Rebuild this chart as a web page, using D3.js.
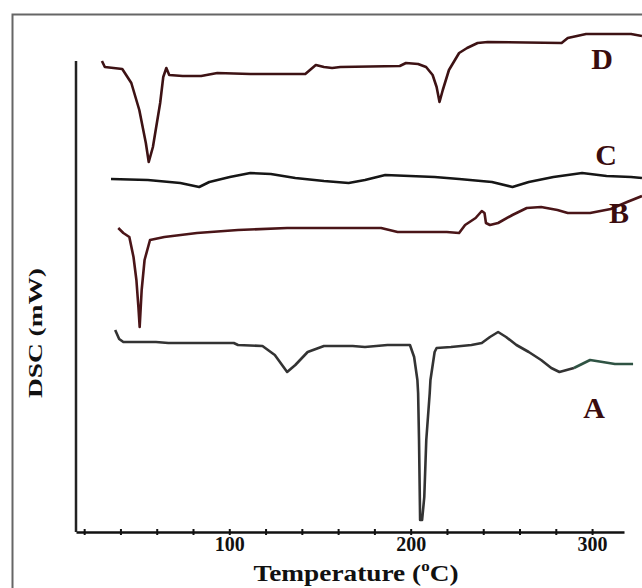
<!DOCTYPE html>
<html>
<head>
<meta charset="utf-8">
<script src="https://cdn.jsdelivr.net/npm/d3@7"></script>
<style>
  body { margin: 0; background: #fff; }
  svg { display: block; }
  text { font-family: "Liberation Serif", "Times New Roman", serif; font-weight: bold; }
</style>
</head>
<body>
<svg id="chart"></svg>
<script>
// temperature (°C), heat flow (arbitrary offset units)
const traceD = [[29.8,471],[31.4,465],[41.0,463],[46.0,449],[50.4,422],[54.0,389],[55.6,370],[57.9,385],[61.9,429],[63.6,455],[65.3,464],[66.9,457],[74.3,456],[84.5,456],[93.4,459],[111.6,458],[141.9,458],[147.7,467],[152.2,465],[156.7,464],[161.2,465],[194.0,466],[197.4,469],[204.1,468],[208.5,465],[212.1,457],[214.3,445],[215.9,430],[217.7,442],[221.1,462],[226.7,479],[231.1,484],[236.9,489],[242.5,490],[283.2,489],[286.6,494],[296.7,498],[321.5,498],[327.5,496]];
const traceC = [[34.8,353],[55.1,352],[73.0,349],[83.4,345],[89.0,350],[100.3,355],[111.6,359],[122.9,358],[136.4,354],[152.2,351],[165.8,349],[174.8,352],[186.0,357],[199.6,356],[213.2,355],[226.7,353],[244.8,350],[256.1,345],[265.1,350],[278.7,355],[294.5,359],[308.0,356],[321.5,355],[327.5,354]];
const traceB = [[38.8,304],[41.6,299],[44.9,295],[47.2,275],[48.8,252],[49.9,225],[50.6,205],[51.7,242],[53.3,272],[56.3,292],[64.2,295],[82.2,299],[104.8,302],[131.9,304],[154.5,304],[183.7,304],[192.8,300],[219.9,300],[226.7,299],[230.0,307],[235.8,314],[239.2,321],[240.7,319],[241.5,309],[243.7,307],[248.2,309],[256.1,317],[264.0,324],[271.9,325],[280.9,322],[286.6,319],[298.9,319],[310.3,323],[319.3,330],[327.5,336]];
const traceA = [[37.1,202],[39.3,193],[41.6,190],[59.6,190],[66.4,189],[102.5,189],[104.8,187],[118.3,186],[125.1,177],[131.9,160],[136.4,167],[143.2,180],[152.2,186],[168.0,186],[174.8,185],[187.2,187],[199.6,187],[201.9,175],[203.7,152],[204.1,139],[204.6,92],[205.2,12],[206.3,12],[207.5,35],[208.6,92],[210.5,139],[210.9,152],[213.2,180],[214.3,184],[222.2,185],[233.5,187],[239.2,189],[243.7,195],[248.2,200],[252.6,195],[258.3,187],[265.1,180],[271.9,172],[277.5,164],[282.0,160],[290.0,164],[298.9,172],[305.8,170],[312.6,168],[322.6,168]];
const tailStart = 290.0;   // A turns greenish from here

const tickValues = [20,40,60,80,100,120,140,160,180,200,220,240,260,280,300];
const tickLabels = [100, 200, 300];

const labels = [
  { name: "D", x: 602, y: 69 },
  { name: "C", x: 606, y: 165 },
  { name: "B", x: 619, y: 223 },
  { name: "A", x: 594, y: 418 }
];

const W = 642, H = 588;
const svg = d3.select("#chart").attr("width", W).attr("height", H);

// outer frame (runs off right/bottom edge)
svg.append("rect")
    .attr("x", 12.5).attr("y", 14.5).attr("width", 700).attr("height", 700)
    .attr("fill", "#fff").attr("stroke", "#666").attr("stroke-width", 2);

const x = d3.scaleLinear().domain([15.5, 317.6]).range([76, 624]);
const y = d3.scaleLinear().domain([0, 518]).range([532, 14]);

const line = d3.line().x(d => x(d[0])).y(d => y(d[1]));

// axes
const xAxis = d3.axisBottom(x)
    .tickValues(tickValues)
    .tickSizeInner(3).tickSizeOuter(0)
    .tickFormat(d => tickLabels.includes(d) ? d : "");

const gx = svg.append("g").attr("transform", `translate(0,${y(0)})`).call(xAxis);
gx.select(".domain").attr("stroke", "#111").attr("stroke-width", 2.5);
gx.selectAll(".tick line").attr("y1", -3).attr("stroke", "#111").attr("stroke-width", 2);
gx.selectAll(".tick text")
    .attr("y", 5).attr("dy", "0.71em")
    .attr("font-size", 20).attr("fill", "#111")
    .attr("font-family", "Liberation Serif").attr("font-weight", "bold");

svg.append("line")
    .attr("x1", 76).attr("x2", 76).attr("y1", 61).attr("y2", y(0))
    .attr("stroke", "#222").attr("stroke-width", 2.5);

// traces
const traces = [
  { data: traceD, color: "#3d1214" },
  { data: traceC, color: "#161616" },
  { data: traceB, color: "#4a1518" },
  { data: traceA.filter(d => d[0] <= tailStart), color: "#333" },
  { data: traceA.filter(d => d[0] >= tailStart), color: "#2f5343" }
];

svg.selectAll(".trace").data(traces).join("path")
    .attr("class", "trace")
    .attr("d", d => line(d.data))
    .attr("fill", "none")
    .attr("stroke", d => d.color)
    .attr("stroke-width", 2.6)
    .attr("stroke-linejoin", "round");

// curve letters
svg.selectAll(".lbl").data(labels).join("text")
    .attr("class", "lbl")
    .attr("x", d => d.x).attr("y", d => d.y)
    .attr("text-anchor", "middle")
    .attr("font-size", 30).attr("fill", "#3a0c0e")
    .text(d => d.name);

// axis titles
const xt = svg.append("text")
    .attr("x", 356).attr("y", 581)
    .attr("text-anchor", "middle")
    .attr("font-size", 24).attr("fill", "#111")
    .attr("textLength", 205).attr("lengthAdjust", "spacingAndGlyphs");
xt.append("tspan").text("Temperature (");
xt.append("tspan").attr("font-size", 15).attr("dy", -10).text("o");
xt.append("tspan").attr("dy", 10).text("C)");

svg.append("text")
    .attr("transform", "translate(42,333) rotate(-90)")
    .attr("text-anchor", "middle")
    .attr("font-size", 19).attr("fill", "#111")
    .attr("textLength", 130).attr("lengthAdjust", "spacingAndGlyphs")
    .text("DSC (mW)");
</script>
</body>
</html>
